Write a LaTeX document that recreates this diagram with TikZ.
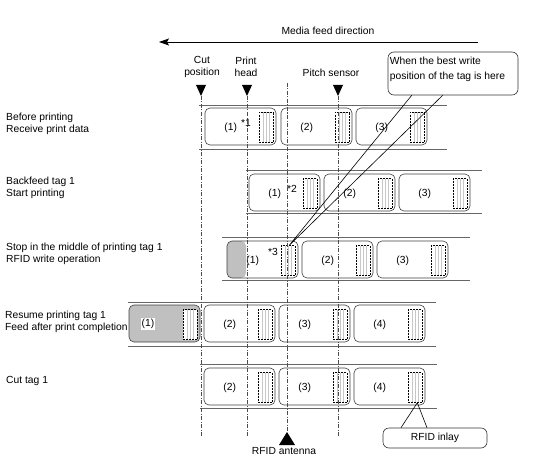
\documentclass[tikz,border=0pt]{standalone}
\usepackage{fontspec}
\setmainfont{Liberation Sans}
\usetikzlibrary{arrows.meta,calc}

\definecolor{tagshade}{RGB}{192,192,192}
\tikzset{
  tagbox/.style={rectangle, rounded corners=5pt, minimum width=71pt,
    minimum height=37pt, inner sep=0pt, draw=black!75, fill=white,
    line width=0.6pt},
  stripe/.style={black!22, line width=1.1pt},
  inlaybox/.style={rectangle, minimum width=14pt, minimum height=30pt,
    inner sep=0pt, draw=black, fill=white, line width=0.5pt,
    dash pattern=on 2pt off 1pt,
    path picture={
      \foreach \s in {0.3,0.5,0.7}
        \draw[stripe, solid]
          ($(path picture bounding box.south west)!\s!(path picture bounding box.south east)$)
          -- ($(path picture bounding box.north west)!\s!(path picture bounding box.north east)$);
    }},
  taglabel/.style={inner sep=1pt},
  strip/.style={draw=black!60, line width=0.9pt},
  guide/.style={black!70, line width=0.5pt,
    dash pattern=on 4pt off 1.5pt on 1pt off 1.5pt},
  callout/.style={draw=black!80, fill=white, rounded corners=6pt,
    line width=0.6pt, inner sep=2pt},
  rowtext/.style={anchor=west, align=left, inner sep=0pt},
}

% one tag on the liner: name, left x, top y, label
\newcommand{\rfidtag}[5][]{%
  \node[tagbox,#1] (#2) at (#3+35.5,#4+18.5) {};
  \node[inlaybox] (#2i) at ([xshift=-10pt,yshift=-1pt]#2.east) {};
  \node[taglabel] (#2l) at ([xshift=26pt,yshift=-1pt]#2.west) {#5};
}

\begin{document}
\begin{tikzpicture}[%
        x = 1pt, y = -1pt,
        font = \fontsize{10.3}{12.5}\selectfont
    ]
  \useasboundingbox (0,0) rectangle (540,468);

  % feed direction
  \node (feedlabel) at (328,31) {Media feed direction};
  \coordinate (feedstart) at (478,42);
  \coordinate (feedend) at (159,42);
  \draw[line width=0.8pt, -{Stealth[length=10pt,width=7pt,inset=2pt]}] (feedstart) -- (feedend);

  % position marks
  \node[align=center] (cutlabel) at (202,67) {Cut\\position};
  \node[align=center] (headlabel) at (246,67) {Print\\head};
  \node (pitchlabel) at (331,73) {Pitch sensor};
  \coordinate (cutmark) at (201,96);
  \coordinate (headmark) at (247,96);
  \coordinate (pitchmark) at (338,96);
  \fill (cutmark) -- ++(-5,-11) -- ++(10,0) -- cycle;
  \fill (headmark) -- ++(-5,-11) -- ++(10,0) -- cycle;
  \fill (pitchmark) -- ++(-5,-11) -- ++(10,0) -- cycle;

  % row texts
  \node[rowtext] (row1) at (6,124) {Before printing\\Receive print data};
  \node[rowtext] (row2) at (6,188) {Backfeed tag 1\\Start printing};
  \node[rowtext] (row3) at (6,254) {Stop in the middle of printing tag 1\\RFID write operation};
  \node[rowtext] (row4) at (5,322) {Resume printing tag 1\\Feed after print completion};
  \node[rowtext] (row5) at (6,381) {Cut tag 1};

  % liners
  \draw[strip] (199,105) -- (447,105) (199,149) -- (447,149);
  \draw[strip] (246,170) -- (482,170) (246,213) -- (482,213);
  \draw[strip] (222,237) -- (470,237) (222,280) -- (470,280);
  \draw[strip] (128,302) -- (436,302) (128,346) -- (436,346);
  \draw[strip] (200,364) -- (437,364) (200,408) -- (437,408);

  % tags
  \rfidtag{r1a}{205}{108}{(1)}
  \rfidtag{r1b}{281}{108}{(2)}
  \rfidtag{r1c}{356}{108}{(3)}
  \rfidtag{r2a}{249}{174}{(1)}
  \rfidtag{r2b}{324}{174}{(2)}
  \rfidtag{r2c}{399}{174}{(3)}
  \rfidtag[path picture={\fill[tagshade] (path picture bounding box.north west)
    rectangle ([xshift=19pt]path picture bounding box.south west);}]{r3a}{227}{241}{(1)}
  \rfidtag{r3b}{302}{241}{(2)}
  \rfidtag{r3c}{377}{241}{(3)}
  \rfidtag[fill=tagshade]{r4a}{129}{305}{}
  \node[taglabel, fill=white] (r4aw) at (148,324) {(1)};
  \rfidtag{r4b}{204}{305}{(2)}
  \rfidtag{r4c}{279}{305}{(3)}
  \rfidtag{r4d}{354}{305}{(4)}
  \rfidtag{r5b}{204}{368}{(2)}
  \rfidtag{r5c}{279}{368}{(3)}
  \rfidtag{r5d}{354}{368}{(4)}

  \node (mark1) at (246,123) {*1};
  \node (mark2) at (292,189) {*2};
  \node (mark3) at (273,252) {*3};

  % guide lines
  \coordinate (cutend) at (201,437);
  \coordinate (headend) at (247,437);
  \coordinate (pitchend) at (338,437);
  \coordinate (anttop) at (287,83);
  \coordinate (antmark) at (287,432);
  \draw[guide] (cutmark) -- (cutend);
  \draw[guide] (headmark) -- (headend);
  \draw[guide] (pitchmark) -- (pitchend);
  \draw[guide] (anttop) -- (antmark);
  \fill (antmark) -- ++(-8,13) -- ++(16,0) -- cycle;
  \node (antlabel) at (284,451) {RFID antenna};

  % callouts
  \coordinate (besttip) at ([xshift=1pt]r3ai.north);
  \draw[line width=0.6pt] (besttip) -- (412,95) (besttip) -- (443,95);
  \node[callout, minimum width=130pt, minimum height=43pt] (bestpos) at (453,73.5) {};
  \node[anchor=north west, align=left, inner sep=0pt, font=\fontsize{10.3}{15}\selectfont]
    (besttext) at ([shift={(2pt,-5pt)}]bestpos.north west) {When the best write\\position of the tag is here};

  \coordinate (inlaytip) at ([xshift=2pt]r5di.south);
  \node[callout, minimum width=104pt, minimum height=20pt] (inlaycall) at (435,438) {RFID inlay};
  \draw[line width=0.6pt] (inlaytip) -- ([xshift=-34pt]inlaycall.north)
    (inlaytip) -- ([xshift=-8pt]inlaycall.north);
\end{tikzpicture}
\end{document}
